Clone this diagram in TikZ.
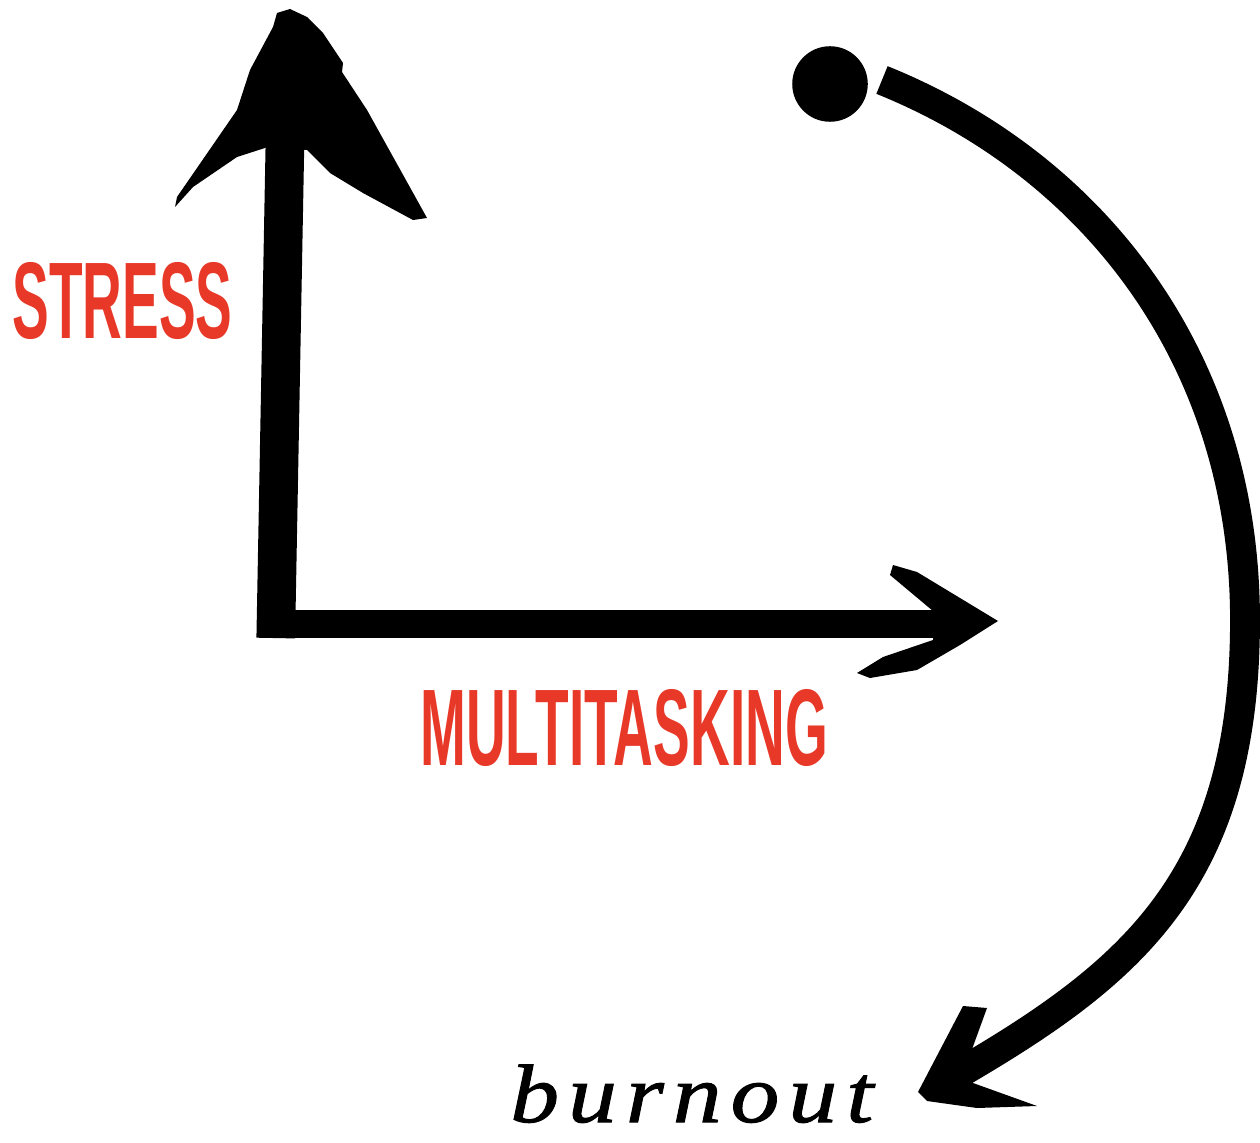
\documentclass[tikz,border=0pt]{standalone}
\usepackage{fontspec}
\usepackage{tikz}
\setmainfont{Liberation Serif}
\newfontfamily\axisfont[FakeStretch=0.505]{Liberation Sans}
\newfontfamily\burnfont[FakeStretch=1.18, FakeBold=1.2, LetterSpace=11]{Liberation Serif}
\definecolor{stressred}{RGB}{231,56,40}

\begin{document}
\begin{tikzpicture}[
  x=0.02cm, y=-0.02cm,
  ink/.style={draw=black, line cap=butt, line join=round},
  head/.style={fill=black},
  dot/.style={circle, fill=black, inner sep=0pt, minimum size=43pt},
  axislab/.style={font=\axisfont\bfseries\fontsize{62}{62}\selectfont, text=stressred, inner sep=0pt, anchor=base west},
  endlab/.style={font=\burnfont\itshape\fontsize{47}{47}\selectfont, inner sep=0pt, anchor=base west}
]
\useasboundingbox (0,0) rectangle (1260,1142);

\coordinate (origin) at (276,624);
\coordinate (ytop) at (285,140);
\coordinate (xend) at (940,624);
\draw[ink, line width=22pt, shorten <=-8pt] (origin) -- (ytop);
\draw[ink, line width=16pt] (origin) -- (xend);
\fill[head] (277,13) -- (290,9) -- (307,17) -- (323,33) -- (343,63) -- (342,72)
  -- (367,110) -- (427,218) -- (413,220) -- (363,193) -- (330,173) -- (307,150)
  -- (268,147) -- (237,157) -- (193,187) -- (175,207) -- (177,197) -- (237,110)
  -- (250,70) -- (273,27) -- cycle;
\fill[head] (998,621) -- (917,572) -- (893,565) -- (890,575) -- (933,611) -- (933,640)
  -- (883,657) -- (857,673) -- (870,678) -- (917,670) -- (960,645) -- cycle;

\node[axislab] (stress) at (12,338) {STRESS};
\node[axislab] (multi) at (420,765) {MULTITASKING};

\node[dot] (dot) at (830,84) {};
\coordinate (cstart) at (882,80);
\coordinate (cmid) at (1245,620);
\coordinate (cend) at (958,1074);
\draw[ink, line width=17pt] (cstart) .. controls (1095,166) and (1245,360) .. (cmid)
  .. controls (1245,880) and (1131,973) .. (cend);
\fill[head] (918,1092) -- (963,1006) -- (987,1008) -- (967,1063) -- (973,1083)
  -- (1037,1106) -- (977,1108) -- (927,1101) -- cycle;

\node[endlab] (burnout) at (510,1122) {burnout};
\end{tikzpicture}
\end{document}
